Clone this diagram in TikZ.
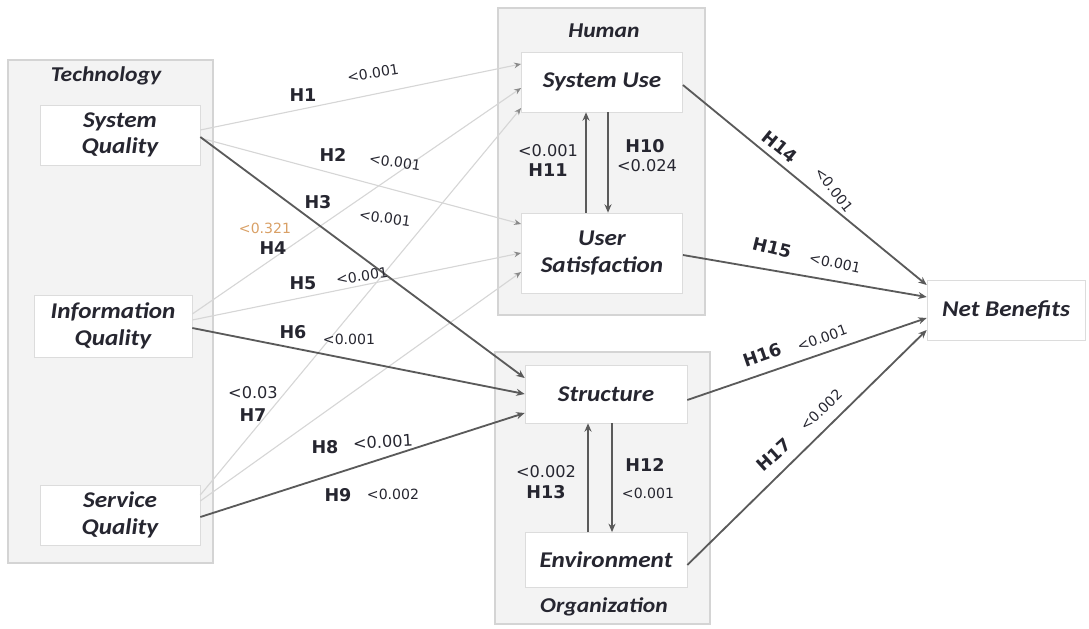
\documentclass[tikz,border=0pt]{standalone}
\usepackage{fontspec}
\setmainfont{DejaVu Sans}
\newfontfamily\boxfont[FakeStretch=1.12]{Carlito}
\usetikzlibrary{calc,fit,positioning,arrows.meta}
\definecolor{grpfill}{HTML}{F3F3F3}
\definecolor{grpline}{HTML}{D4D4D4}
\definecolor{boxline}{HTML}{DCDCDC}
\definecolor{txt}{HTML}{262630}
\definecolor{faintline}{HTML}{D6D6D6}
\definecolor{tipgray}{HTML}{8A8A8A}
\definecolor{strongline}{HTML}{5A5A5A}
\definecolor{oddval}{HTML}{D9A066}

\begin{document}
\begin{tikzpicture}[x=0.025cm,y=-0.025cm,
    box/.style={draw=boxline,fill=white,inner sep=2pt,align=center,text=txt,
                font=\boxfont\bfseries\itshape\fontsize{16}{19}\selectfont},
    group/.style={draw=grpline,fill=grpfill,line width=0.8pt,inner sep=0pt},
    title/.style={text=txt,font=\boxfont\bfseries\itshape\fontsize{15}{18}\selectfont},
    hyp/.style={text=txt,font=\bfseries\fontsize{12.5}{14}\selectfont},
    pval/.style={text=txt,font=\fontsize{10}{12}\selectfont},
    bigval/.style={text=txt,font=\fontsize{11.5}{13}\selectfont,align=center},
    faint/.style={draw=faintline,line width=0.8pt,-{Stealth[length=5pt,width=4pt,color=tipgray]}},
    strong/.style={draw=strongline,line width=1.3pt,-{Stealth[length=6pt,width=5pt]}}]

  \useasboundingbox (0,0) rectangle (1089,629);

  % groups
  \node[group,fit={(8,60) (213,563)}] (tech) {};
  \node[group,fit={(498,8) (705,315)}] (human) {};
  \node[group,fit={(495,352) (710,624)}] (org) {};

  \node[title] (techlbl) at (106,76) {Technology};
  \node[title] (humlbl) at (604,31) {Human};
  \node[title] (orglbl) at (604,607) {Organization};

  % constructs
  \node[box,minimum width=4cm,minimum height=1.5cm] (sq) at (120,135) {System\\Quality};
  \node[box,minimum width=3.95cm,minimum height=1.55cm] (iq) at (113,326) {Information\\Quality};
  \node[box,minimum width=4cm,minimum height=1.5cm] (svq) at (120,515) {Service\\Quality};
  \node[box,minimum width=4.03cm,minimum height=1.5cm] (su) at (602,82) {System Use};
  \node[box,minimum width=4.03cm,minimum height=2cm] (us) at (602,253) {User\\Satisfaction};
  \node[box,minimum width=4.05cm,minimum height=1.45cm] (st) at (606,394) {Structure};
  \node[box,minimum width=4.05cm,minimum height=1.38cm] (env) at (606,560) {Environment};
  \node[box,minimum width=3.95cm,minimum height=1.5cm] (nb) at (1006,310) {Net Benefits};

  % technology -> human
  \draw[faint] ($(sq.east)+(0,-5)$) -- ($(su.west)+(0,-18)$);
  \draw[faint] ($(sq.east)+(0,3)$) -- ($(us.west)+(0,-29)$);
  \draw[faint] ($(iq.east)+(0,-12)$) -- ($(su.west)+(0,6)$);
  \draw[faint] ($(iq.east)+(0,-6)$) -- ($(us.west)+(0,0)$);
  \draw[faint] ($(svq.east)+(0,-20)$) -- ($(su.west)+(0,26)$);
  \draw[faint] ($(svq.east)+(0,-14)$) -- ($(us.west)+(0,19)$);

  % technology -> organization
  \draw[strong] ($(sq.east)+(0,2)$) -- ($(st.west)+(0,-16)$);
  \draw[strong] ($(iq.east)+(0,2)$) -- ($(st.west)+(0,0)$);
  \draw[strong] ($(svq.east)+(0,2)$) -- ($(st.west)+(0,19)$);

  % within groups
  \draw[strong,line width=1pt] ($(us.north)+(-16,0)$) -- ($(su.south)+(-16,0)$);
  \draw[strong,line width=1pt] ($(su.south)+(6,0)$) -- ($(us.north)+(6,0)$);
  \draw[strong,line width=1pt] ($(env.north)+(-18,0)$) -- ($(st.south)+(-18,0)$);
  \draw[strong,line width=1pt] ($(st.south)+(6,0)$) -- ($(env.north)+(6,0)$);

  % -> net benefits
  \draw[strong] ($(su.east)+(0,3)$) -- ($(nb.west)+(0,-25)$);
  \draw[strong] ($(us.east)+(0,2)$) -- ($(nb.west)+(0,-13)$);
  \draw[strong] ($(st.east)+(0,6)$) -- ($(nb.west)+(0,8)$);
  \draw[strong] ($(env.east)+(0,5)$) -- ($(nb.west)+(0,20)$);

  % hypotheses and p values
  \node[hyp] (h1) at (303,95) {H1};
  \node[pval,rotate=9] (p1) at (373,73) {<0.001};
  \node[hyp] (h2) at (333,155) {H2};
  \node[pval,rotate=-8] (p2) at (395,162) {<0.001};
  \node[hyp] (h3) at (318,202) {H3};
  \node[pval,rotate=-8] (p3) at (385,218) {<0.001};
  \node[pval,text=oddval] (p4) at (265,228) {<0.321};
  \node[hyp] (h4) at (273,248) {H4};
  \node[hyp] (h5) at (303,283) {H5};
  \node[pval,rotate=8] (p5) at (362,276) {<0.001};
  \node[hyp] (h6) at (293,332) {H6};
  \node[pval] (p6) at (349,339) {<0.001};
  \node[bigval] (p7) at (253,393) {<0.03};
  \node[hyp] (h7) at (253,415) {H7};
  \node[hyp] (h8) at (325,447) {H8};
  \node[bigval,rotate=3] (p8) at (383,442) {<0.001};
  \node[hyp] (h9) at (338,495) {H9};
  \node[pval] (p9) at (393,494) {<0.002};

  \node[bigval] (p11) at (548,151) {<0.001};
  \node[hyp] (h11) at (548,170) {H11};
  \node[hyp] (h10) at (645,146) {H10};
  \node[bigval] (p10) at (647,166) {<0.024};
  \node[bigval] (p13) at (546,472) {<0.002};
  \node[hyp] (h13) at (546,492) {H13};
  \node[hyp] (h12) at (645,465) {H12};
  \node[pval] (p12) at (648,493) {<0.001};

  \node[hyp,rotate=-39] (h14) at (780,147) {H14};
  \node[pval,rotate=-52] (p14) at (834,190) {<0.001};
  \node[hyp,rotate=-14] (h15) at (772,248) {H15};
  \node[pval,rotate=-12] (p15) at (835,263) {<0.001};
  \node[hyp,rotate=19] (h16) at (762,355) {H16};
  \node[pval,rotate=20] (p16) at (822,338) {<0.001};
  \node[hyp,rotate=42] (h17) at (774,455) {H17};
  \node[pval,rotate=44] (p17) at (821,410) {<0.002};
\end{tikzpicture}
\end{document}
